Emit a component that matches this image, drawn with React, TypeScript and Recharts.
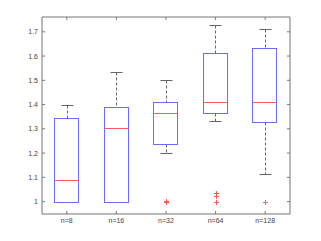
import { ComposedChart, Bar, Line, XAxis, YAxis } from 'recharts'

const categories = ['n=8', 'n=16', 'n=32', 'n=64', 'n=128']
const whiskerLow = [1.0, 1.0, 1.199, 1.334, 1.113]
const quartile1 = [1.0, 1.0, 1.236, 1.367, 1.33]
const medians = [1.091, 1.302, 1.365, 1.41, 1.41]
const quartile3 = [1.346, 1.389, 1.41, 1.613, 1.634]
const whiskerHigh = [1.4, 1.533, 1.501, 1.726, 1.712]
const outliers: number[][] = [[], [], [1.0, 1.0, 1.003], [1.0, 1.025, 1.037], [1.0]]
const yTicks = [1, 1.1, 1.2, 1.3, 1.4, 1.5, 1.6, 1.7]

const data = categories.map((name, i) => ({
  name,
  range: [whiskerLow[i], whiskerHigh[i]],
  low: whiskerLow[i],
  q1: quartile1[i],
  med: medians[i],
  q3: quartile3[i],
  high: whiskerHigh[i],
  o1: outliers[i][0] ?? null,
  o2: outliers[i][1] ?? null,
  o3: outliers[i][2] ?? null,
}))

const AXIS = '#777'
const LABEL = '#444'
const BLUE = '#6b6bff'
const RED = '#ff5a5a'
const WHISKER = '#666'
const font = { fontSize: 7, fill: LABEL, fontFamily: '"Liberation Sans", Arial, sans-serif' }

const snap = (v: number) => Math.round(v) + 0.5

function BoxShape(props: any) {
  const { x, y, width, height, payload } = props
  const k = height / (payload.high - payload.low)
  const yOf = (v: number) => snap(y + (payload.high - v) * k)
  const cx = snap(x + width / 2)
  const left = snap(x)
  const right = snap(x + width - 1)
  const cap = 6
  return (
    <g>
      <line x1={cx} x2={cx} y1={yOf(payload.high)} y2={yOf(payload.q3)} stroke={WHISKER} strokeDasharray="3 2" />
      <line x1={cx} x2={cx} y1={yOf(payload.q1)} y2={yOf(payload.low)} stroke={WHISKER} strokeDasharray="3 2" />
      <line x1={cx - cap} x2={cx + cap} y1={yOf(payload.high)} y2={yOf(payload.high)} stroke={WHISKER} />
      <line x1={cx - cap} x2={cx + cap} y1={yOf(payload.low)} y2={yOf(payload.low)} stroke={WHISKER} />
      <rect x={left} y={yOf(payload.q3)} width={right - left} height={yOf(payload.q1) - yOf(payload.q3)} fill="#fff" stroke={BLUE} />
      <line x1={left} x2={right} y1={yOf(payload.med)} y2={yOf(payload.med)} stroke={RED} />
    </g>
  )
}

function PlusDot(props: any) {
  const { cx, cy, value } = props
  if (value == null || cy == null) return <g key={props.index} />
  const px = snap(cx)
  const py = snap(cy)
  return (
    <g key={props.index}>
      <line x1={px - 2.5} x2={px + 2.5} y1={py} y2={py} stroke={RED} />
      <line x1={px} x2={px} y1={py - 2.5} y2={py + 2.5} stroke={RED} />
    </g>
  )
}

const blank = () => ''
const yLabel = (v: number) => (v === 1 ? '1' : v.toFixed(1))

export default function App() {
  return (
    <div style={{ position: 'absolute', left: 0, top: 0, background: '#fff' }}>
      <ComposedChart width={321} height={241} data={data} margin={{ top: 0, right: 0, bottom: 0, left: 0 }}>
        <XAxis dataKey="name" height={27} tick={font} tickSize={-3} tickMargin={7} stroke={AXIS} />
        <XAxis dataKey="name" xAxisId="top" orientation="top" height={17} tickFormatter={blank} tickSize={-3} stroke={AXIS} />
        <YAxis
          width={42}
          domain={[0.949, 1.761]}
          allowDataOverflow
          ticks={yTicks}
          tickFormatter={yLabel}
          tick={font}
          tickSize={-3}
          tickMargin={7}
          stroke={AXIS}
        />
        <YAxis
          yAxisId="right"
          orientation="right"
          width={31}
          domain={[0.949, 1.761]}
          allowDataOverflow
          ticks={yTicks}
          tickFormatter={blank}
          tickSize={-3}
          stroke={AXIS}
        />
        <Bar dataKey="range" barSize={25} shape={BoxShape} isAnimationActive={false} />
        <Line dataKey="o1" stroke="none" dot={PlusDot} activeDot={false} isAnimationActive={false} />
        <Line dataKey="o2" stroke="none" dot={PlusDot} activeDot={false} isAnimationActive={false} />
        <Line dataKey="o3" stroke="none" dot={PlusDot} activeDot={false} isAnimationActive={false} />
      </ComposedChart>
    </div>
  )
}
